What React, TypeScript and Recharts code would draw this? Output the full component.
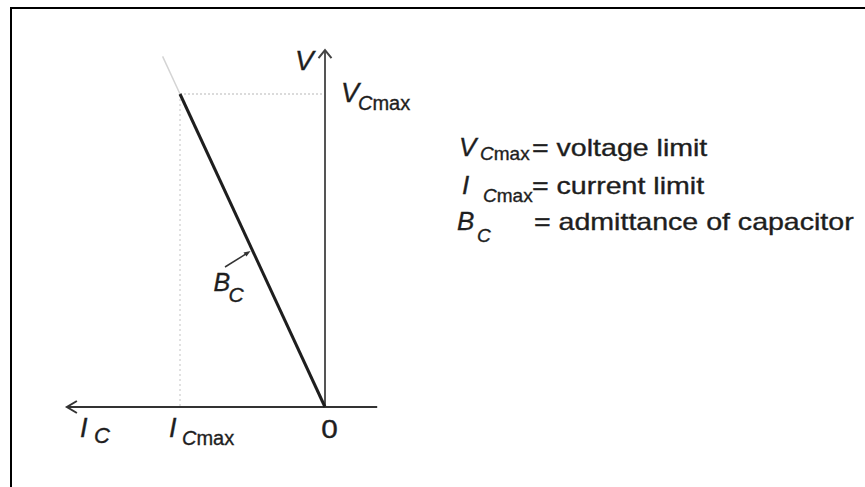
import React from "react";
import { LineChart, Line, XAxis, YAxis, ReferenceLine, ReferenceDot } from "recharts";

/* ───────── data (units: I_Cmax = 1, V_Cmax = 1) ───────── */

const I_CMAX = 1;
const V_CMAX = 1;

// admittance line of the capacitor, from origin to the operating limit
const loadLine = [
  { i: 0, v: 0 },
  { i: I_CMAX, v: V_CMAX },
];
// faint continuation beyond the limit
const loadLineExt = [
  { i: I_CMAX, v: V_CMAX },
  { i: 1.12, v: 1.12 },
];

const I_AXIS_RANGE = [-0.36, 1.78];
const V_AXIS_RANGE = [0, 1.14];
const BC_POINT = { i: 0.5, v: 0.5 };

const legendSymbols = ["V", "I", "B"];
const legendSubs = ["Cmax", "Cmax", "C"];
const legendTexts = ["voltage limit", "current limit", "admittance of capacitor"];

/* ───────── layout ───────── */

const W = 865;
const H = 487;
const ORIGIN_X = 325;
const ORIGIN_Y = 407;
const PX_PER_I = 145;
const PX_PER_V = 313;

const I_DOMAIN = [(ORIGIN_X - W) / PX_PER_I, ORIGIN_X / PX_PER_I];
const V_DOMAIN = [(ORIGIN_Y - H) / PX_PER_V, ORIGIN_Y / PX_PER_V];

const FONT = "'Liberation Sans', Arial, sans-serif";
const INK = "#1e1e1e";
// scanned glyphs look heavier than the clean font
const HEAVY = { stroke: INK, strokeWidth: 0.35 };

type DotProps = { cx?: number; cy?: number };

// main letter italic, subscript "C" italic + "max" upright
function Sym(props: {
  x: number;
  y: number;
  main: string;
  sub: string;
  sx: number;
  sy: number;
  size?: number;
  subSize?: number;
}) {
  const { x, y, main, sub, sx, sy, size = 27, subSize = 20 } = props;
  return (
    <g fontFamily={FONT} fill={INK} {...HEAVY}>
      <text x={x} y={y} fontSize={size} fontStyle="italic">
        {main}
      </text>
      <text x={sx} y={sy} fontSize={subSize}>
        <tspan fontStyle="italic">{sub.slice(0, 1)}</tspan>
        {sub.slice(1)}
      </text>
    </g>
  );
}

const ArrowLeft = ({ cx = 0, cy = 0 }: DotProps) => (
  <polyline
    points={`${cx + 10},${cy - 6} ${cx},${cy} ${cx + 10},${cy + 6}`}
    fill="none"
    stroke="#333"
    strokeWidth={2}
  />
);

const ArrowUp = ({ cx = 0, cy = 0 }: DotProps) => (
  <polyline
    points={`${cx - 6.5},${cy + 8} ${cx},${cy} ${cx + 6.5},${cy + 8}`}
    fill="none"
    stroke="#444"
    strokeWidth={2}
  />
);

const BcLabel = ({ cx = 0, cy = 0 }: DotProps) => (
  <g>
    <line x1={cx - 27.5} y1={cy + 16.5} x2={cx - 5} y2={cy + 2.5} stroke="#333" strokeWidth={1.5} />
    <polygon
      points={`${cx - 2},${cy + 0.5} ${cx - 9},${cy + 2} ${cx - 6},${cy + 6}`}
      fill="#333"
    />
    <Sym x={cx - 39} y={cy + 40} main="B" sub="C" sx={cx - 24} sy={cy + 51.5} size={25} subSize={21} />
  </g>
);

export default function App() {
  return (
    <div style={{ position: "absolute", left: 0, top: 0, width: W, height: H, background: "#fff" }}>
      <LineChart
        width={W}
        height={H}
        margin={{ top: 0, right: 0, bottom: 0, left: 0 }}
      >
        <XAxis
          type="number"
          dataKey="i"
          domain={I_DOMAIN}
          reversed
          allowDataOverflow
          hide
        />
        <YAxis type="number" dataKey="v" domain={V_DOMAIN} allowDataOverflow hide />

        {/* guide lines to the limits */}
        <ReferenceLine
          segment={[
            { x: I_CMAX, y: V_CMAX },
            { x: 0, y: V_CMAX },
          ]}
          stroke="#cfcfcf"
          strokeWidth={1.5}
          strokeDasharray="2 2"
        />
        <ReferenceLine
          segment={[
            { x: I_CMAX, y: V_CMAX },
            { x: I_CMAX, y: 0 },
          ]}
          stroke="#d8d8d8"
          strokeWidth={1.5}
          strokeDasharray="2 3"
        />

        {/* axes */}
        <ReferenceLine
          segment={[
            { x: I_AXIS_RANGE[0], y: 0 },
            { x: I_AXIS_RANGE[1], y: 0 },
          ]}
          stroke="#333"
          strokeWidth={2}
        />
        <ReferenceLine
          segment={[
            { x: 0, y: V_AXIS_RANGE[0] },
            { x: 0, y: V_AXIS_RANGE[1] },
          ]}
          stroke="#555"
          strokeWidth={2}
        />
        <ReferenceDot x={I_AXIS_RANGE[1]} y={0} r={1} shape={(p: DotProps) => <ArrowLeft {...p} />} />
        <ReferenceDot x={0} y={V_AXIS_RANGE[1]} r={1} shape={(p: DotProps) => <ArrowUp {...p} />} />

        <Line
          data={loadLineExt}
          dataKey="v"
          stroke="#d4d4d4"
          strokeWidth={1.5}
          dot={false}
          activeDot={false}
          isAnimationActive={false}
        />
        <Line
          data={loadLine}
          dataKey="v"
          stroke={INK}
          strokeWidth={3}
          dot={false}
          activeDot={false}
          isAnimationActive={false}
        />

        {/* labels */}
        <ReferenceDot
          x={0}
          y={V_AXIS_RANGE[1]}
          r={1}
          shape={({ cx = 0, cy = 0 }: DotProps) => (
            <text
              x={cx - 30}
              y={cy + 20}
              fontFamily={FONT}
              fontSize={28}
              fontStyle="italic"
              fill={INK}
              {...HEAVY}
            >
              V
            </text>
          )}
        />
        <ReferenceDot
          x={0}
          y={V_CMAX}
          r={1}
          shape={({ cx = 0, cy = 0 }: DotProps) => (
            <Sym x={cx + 16} y={cy + 8} main="V" sub="Cmax" sx={cx + 33} sy={cy + 16} />
          )}
        />
        <ReferenceDot
          x={I_AXIS_RANGE[1]}
          y={0}
          r={1}
          shape={({ cx = 0, cy = 0 }: DotProps) => (
            <Sym x={cx + 13} y={cy + 30} main="I" sub="C" sx={cx + 27} sy={cy + 36} subSize={22} />
          )}
        />
        <ReferenceDot
          x={I_CMAX}
          y={0}
          r={1}
          shape={({ cx = 0, cy = 0 }: DotProps) => (
            <Sym x={cx - 11} y={cy + 30} main="I" sub="Cmax" sx={cx + 2} sy={cy + 38} />
          )}
        />
        <ReferenceDot
          x={0}
          y={0}
          r={1}
          shape={({ cx = 0, cy = 0 }: DotProps) => (
            <text
              transform={`translate(${cx + 4.5},${cy + 31}) scale(1.19,1)`}
              textAnchor="middle"
              fontFamily={FONT}
              fontSize={25}
              fill={INK}
              {...HEAVY}
            >
              0
            </text>
          )}
        />
        <ReferenceDot x={BC_POINT.i} y={BC_POINT.v} r={1} shape={(p: DotProps) => <BcLabel {...p} />} />
      </LineChart>

      {/* legend */}
      <svg
        width={W}
        height={H}
        style={{ position: "absolute", left: 0, top: 0, pointerEvents: "none" }}
      >
        <g fontFamily={FONT} fill={INK} {...HEAVY}>
          {legendSymbols.map((s, k) => {
            const base = [156, 194, 230][k];
            const sx = [459, 462, 457][k];
            const subX = [480, 483, 477][k];
            const subY = [160, 202, 242][k];
            const eqX = [532, 532, 534][k];
            return (
              <g key={k}>
                <text x={sx} y={base} fontSize={26} fontStyle="italic">
                  {s}
                </text>
                <text x={subX} y={subY} fontSize={19}>
                  <tspan fontStyle="italic">{legendSubs[k].slice(0, 1)}</tspan>
                  {legendSubs[k].slice(1)}
                </text>
                <text transform={`translate(${eqX},${base}) scale(1.19,1)`} fontSize={24}>
                  {"= " + legendTexts[k]}
                </text>
              </g>
            );
          })}
        </g>
      </svg>

      {/* frame */}
      <div
        style={{
          position: "absolute",
          left: 10,
          top: 7,
          right: 0,
          bottom: 0,
          borderTop: "2px solid #000",
          borderLeft: "2px solid #000",
        }}
      />
    </div>
  );
}
